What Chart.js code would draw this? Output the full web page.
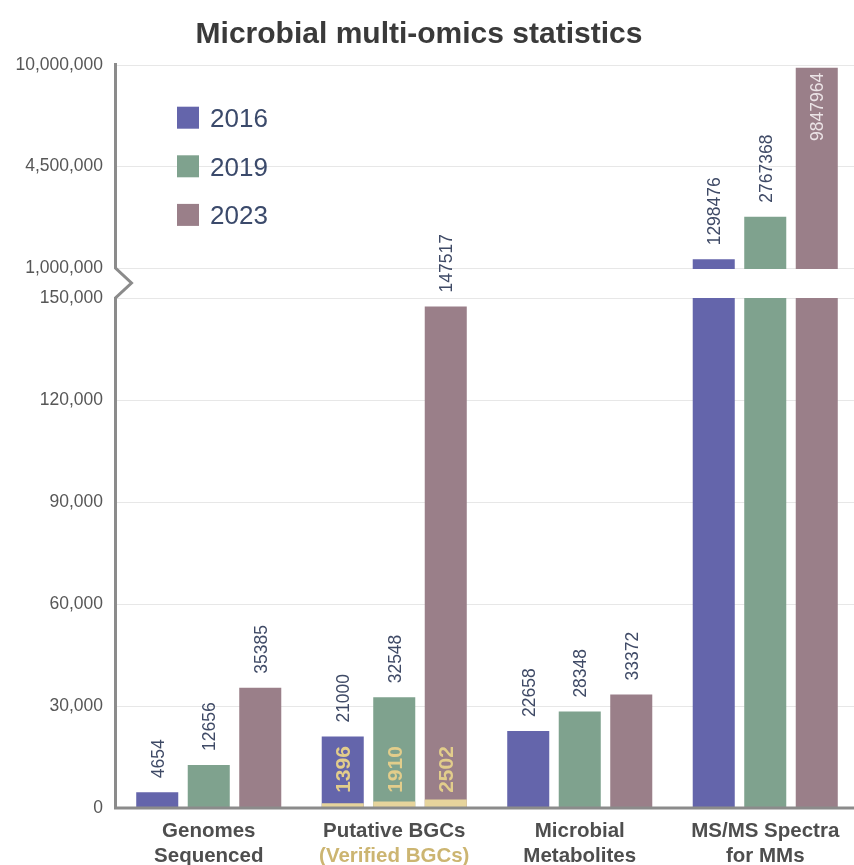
<!DOCTYPE html>
<html>
<head>
<meta charset="utf-8">
<title>Microbial multi-omics statistics</title>
<script src="https://cdn.jsdelivr.net/npm/chart.js@4.4.1/dist/chart.umd.min.js"></script>
<style>
  html, body { margin: 0; padding: 0; background: #ffffff; overflow: hidden; }
  canvas { display: block; }
</style>
</head>
<body>
<canvas id="chart" width="858" height="865"></canvas>
<script>
// ---- data ----
const categories = [
  ['Genomes', 'Sequenced'],
  ['Putative BGCs', '(Verified BGCs)'],
  ['Microbial', 'Metabolites'],
  ['MS/MS Spectra', 'for MMs']
];
const years = ['2016', '2019', '2023'];
const values2016 = [4654, 21000, 22658, 1298476];
const values2019 = [12656, 32548, 28348, 2767368];
const values2023 = [35385, 147517, 33372, 9847964];
const verifiedBGCs = [1396, 1910, 2502];          // per year, for the Putative BGCs group
const lowerTicks = [0, 30000, 60000, 90000, 120000, 150000];
const upperTicks = [1000000, 4500000, 10000000];

// ---- styling ----
const seriesColors = ['#6465ab', '#7fa28e', '#9a7f89'];
const verifiedBarColor = '#e6d49c';
const verifiedTextColor = '#e2cd8b';
const verifiedLabelColor = '#ccb571';
const FONT = '"Liberation Sans", Arial, Helvetica, sans-serif';
const VERIFIED_GROUP = 1;

// ---- broken value axis ----
// The lower segment (0 - 150,000) and the upper segment (1,000,000 - 10,000,000)
// share one linear axis, separated by a small gap.
const LOWER_MAX = lowerTicks[lowerTicks.length - 1];
const LOWER_SPAN = 510, GAP = 30, UPPER_SPAN = 101.5;
function toAxis(v) {
  if (v <= LOWER_MAX) return v / LOWER_MAX * LOWER_SPAN;
  for (let i = 0; i < upperTicks.length - 1; i++) {
    const a = upperTicks[i], b = upperTicks[i + 1];
    if (v <= b || i === upperTicks.length - 2) {
      return LOWER_SPAN + GAP + i * UPPER_SPAN + (v - a) / (b - a) * UPPER_SPAN;
    }
  }
}
const allTicks = lowerTicks.concat(upperTicks);
const tickLabels = allTicks.map(v => v.toLocaleString('en-US'));
const series = [values2016, values2019, values2023];

// ---- drawing helpers ----
function rotatedText(ctx, text, x, y, align, font, color) {
  const size = parseFloat(font.match(/([\d.]+)px/)[1]);
  ctx.save();
  ctx.translate(x + 0.358 * size, y);
  ctx.rotate(-Math.PI / 2);
  ctx.font = font;
  ctx.fillStyle = color;
  ctx.textAlign = align;
  ctx.textBaseline = 'alphabetic';
  ctx.fillText(text, 0, 0);
  ctx.restore();
}

const decorations = {
  id: 'decorations',
  afterDatasetsDraw(chart) {
    const { ctx, chartArea: ca, scales: { x, y } } = chart;

    // white band for the axis break
    const yBreakTop = Math.round(y.getPixelForValue(toAxis(upperTicks[0])));
    const yBreakBot = Math.round(y.getPixelForValue(toAxis(LOWER_MAX)));
    ctx.save();
    ctx.fillStyle = '#ffffff';
    ctx.fillRect(ca.left, yBreakTop + 1, ca.right - ca.left + 2, yBreakBot - yBreakTop - 1);
    ctx.restore();

    // verified BGC segments inside the Putative BGC bars
    series.forEach((vals, d) => {
      const bar = chart.getDatasetMeta(d).data[VERIFIED_GROUP];
      const top = y.getPixelForValue(toAxis(verifiedBGCs[d]));
      ctx.fillStyle = verifiedBarColor;
      ctx.fillRect(bar.x - bar.width / 2, top, bar.width, bar.base - top);
      rotatedText(ctx, String(verifiedBGCs[d]), bar.x, bar.base - 38, 'center',
        'bold 21px ' + FONT, verifiedTextColor);
    });

    // value labels
    const labelFont = '17.5px ' + FONT;
    ctx.font = labelFont;
    series.forEach((vals, d) => {
      const meta = chart.getDatasetMeta(d);
      vals.forEach((v, i) => {
        const el = meta.data[i];
        const text = String(v);
        const w = ctx.measureText(text).width;
        if (el.y - 14 - w < ca.top - 8) {
          rotatedText(ctx, text, el.x, el.y + 5, 'right', labelFont, '#ebe3e6');
        } else {
          rotatedText(ctx, text, el.x, el.y - 14, 'left', labelFont, '#3f4a66');
        }
      });
    });

    // axes with break mark
    const ax = ca.left - 0.5;
    const mid = (yBreakTop + yBreakBot) / 2;
    ctx.save();
    ctx.strokeStyle = '#8b8b8b';
    ctx.lineWidth = 3;
    ctx.lineJoin = 'miter';
    ctx.beginPath();
    ctx.moveTo(ax, ca.top - 2);
    ctx.lineTo(ax, yBreakTop);
    ctx.lineTo(ax + 16, mid);
    ctx.lineTo(ax, yBreakBot);
    ctx.lineTo(ax, ca.bottom);
    ctx.lineTo(chart.width, ca.bottom);
    ctx.stroke();
    ctx.restore();
  },
  afterDraw(chart) {
    const { ctx, scales: { x } } = chart;

    // title
    ctx.save();
    ctx.font = 'bold 30px ' + FONT;
    ctx.fillStyle = '#3a3a3a';
    ctx.textAlign = 'center';
    ctx.textBaseline = 'alphabetic';
    ctx.fillText('Microbial multi-omics statistics', 419, 43);

    // legend
    ctx.font = '26px ' + FONT;
    ctx.textAlign = 'left';
    years.forEach((yr, d) => {
      const yc = 117.7 + d * 48.6;
      ctx.fillStyle = seriesColors[d];
      ctx.fillRect(177, yc - 11, 22, 22);
      ctx.fillStyle = '#3b4a6b';
      ctx.fillText(yr, 210, yc + 9.3);
    });

    // category labels
    ctx.font = 'bold 20.5px ' + FONT;
    ctx.textAlign = 'center';
    categories.forEach((lines, i) => {
      const cx = x.getPixelForValue(i);
      ctx.fillStyle = '#4e4e4e';
      ctx.fillText(lines[0], cx, 837);
      ctx.fillStyle = i === VERIFIED_GROUP ? verifiedLabelColor : '#4e4e4e';
      ctx.fillText(lines[1], cx, 862);
    });
    ctx.restore();
  }
};

new Chart(document.getElementById('chart'), {
  type: 'bar',
  data: {
    labels: categories.map(c => c.join(' ')),
    datasets: series.map((vals, d) => ({
      label: years[d],
      data: vals.map(toAxis),
      backgroundColor: seriesColors[d],
      borderWidth: 0,
      categoryPercentage: 0.833,
      barPercentage: 0.816
    }))
  },
  options: {
    responsive: false,
    animation: false,
    devicePixelRatio: 1,
    layout: { padding: { top: 65, left: 0, right: 0, bottom: 0 } },
    plugins: {
      legend: { display: false },
      title: { display: false },
      tooltip: { enabled: false }
    },
    scales: {
      x: {
        grid: { display: false },
        border: { display: false },
        ticks: { display: false },
        afterFit(scale) { scale.height = 57; }
      },
      y: {
        min: 0,
        max: toAxis(upperTicks[upperTicks.length - 1]),
        grid: { color: '#e7e7e7', lineWidth: 1, drawTicks: false },
        border: { display: false },
        afterBuildTicks(scale) {
          scale.ticks = allTicks.map(v => ({ value: toAxis(v) }));
        },
        ticks: {
          autoSkip: false,
          padding: 13,
          color: '#575757',
          font: { family: FONT, size: 17.5 },
          callback: (val, idx) => tickLabels[idx]
        },
        afterFit(scale) { scale.width = 116; }
      }
    }
  },
  plugins: [decorations]
});
</script>
</body>
</html>
